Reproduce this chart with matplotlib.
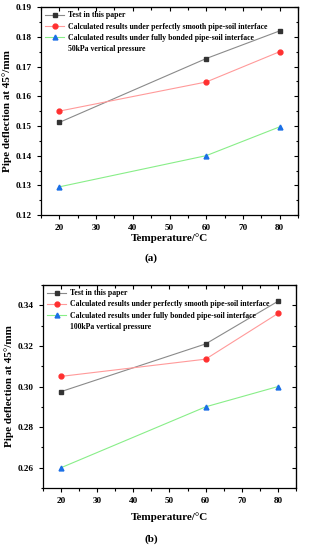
import matplotlib
matplotlib.use("Agg")
import matplotlib.pyplot as plt
from matplotlib.lines import Line2D
from matplotlib.ticker import MultipleLocator

plt.rcParams['font.family'] = ['Liberation Serif', 'DejaVu Serif']
plt.rcParams['font.weight'] = 'bold'

temps = [20, 60, 80]
labels = ["Test in this paper",
          "Calculated results under perfectly smooth pipe-soil interface",
          "Calculated results under fully bonded pipe-soil interface"]

test_a = [0.1512, 0.1727, 0.1820]
smooth_a = [0.1550, 0.1648, 0.1750]
bonded_a = [0.1295, 0.1400, 0.1497]

test_b = [0.2975, 0.3210, 0.3420]
smooth_b = [0.3050, 0.3135, 0.3360]
bonded_b = [0.2600, 0.2900, 0.3000]

pressure_a = "50kPa vertical pressure"
pressure_b = "100kPa vertical pressure"

fig = plt.figure(figsize=(3.09, 5.50), dpi=100)

styles = [
    dict(color='#8a8a8a', marker='s', mfc='#333333', mec='#333333', ms=3.0),
    dict(color='#ff9a9a', marker='o', mfc='#ff3030', mec='#ff3030', ms=3.5),
    dict(color='#88ee88', marker='^', mfc='#1a6fe6', mec='#1a6fe6', ms=3.5),
]


def panel(rect, series, ylim, ystep, pressure, tag, tag_y, xlabel_pad):
    ax = fig.add_axes(rect)
    handles = []
    for vals, st, lab in zip(series, styles, labels):
        h, = ax.plot(temps, vals, lw=0.8, label=lab, **st)
        handles.append(h)
    handles.append(Line2D([], [], color='none', marker=None))
    ax.set_xlim(15, 85)
    ax.set_ylim(*ylim)
    ax.xaxis.set_major_locator(MultipleLocator(10))
    ax.xaxis.set_minor_locator(MultipleLocator(5))
    ax.yaxis.set_major_locator(MultipleLocator(ystep))
    ax.yaxis.set_minor_locator(MultipleLocator(ystep / 2))
    ax.tick_params(axis='both', which='both', labelsize=6.6, width=0.8, direction='out')
    ax.tick_params(axis='both', which='major', length=3)
    ax.tick_params(axis='both', which='minor', length=1.8)
    for t in ax.get_xticklabels() + ax.get_yticklabels():
        t.set_fontweight('bold')
    for s in ax.spines.values():
        s.set_linewidth(0.9)

    top = ax.secondary_xaxis('top')
    top.xaxis.set_major_locator(MultipleLocator(10))
    top.xaxis.set_minor_locator(MultipleLocator(5))
    top.tick_params(which='both', direction='in', labeltop=False, width=0.8)
    top.tick_params(which='major', length=3)
    top.tick_params(which='minor', length=1.8)
    right = ax.secondary_yaxis('right')
    right.yaxis.set_major_locator(MultipleLocator(ystep))
    right.yaxis.set_minor_locator(MultipleLocator(ystep / 2))
    right.tick_params(which='both', direction='in', labelright=False, width=0.8)
    right.tick_params(which='major', length=3)
    right.tick_params(which='minor', length=1.8)

    ax.set_xlabel("Temperature/°C", fontsize=8, fontweight='bold', labelpad=xlabel_pad)
    ax.set_ylabel("Pipe deflection at 45°/mm", fontsize=8, fontweight='bold', labelpad=3)
    ax.legend(handles, labels + [pressure], loc='upper left', frameon=False,
              prop={'weight': 'bold', 'size': 5.6},
              handlelength=2.4, handletextpad=0.5, labelspacing=0.4,
              borderaxespad=0.25, borderpad=0.3)
    fig.text(0.49, tag_y, tag, fontsize=8, fontweight='bold', ha='center', va='center')
    return ax


panel([0.1327, 0.609, 0.8317, 0.378], [test_a, smooth_a, bonded_a], (0.12, 0.19), 0.01,
      pressure_a, "(a)", 1 - 258 / 550, 1)
panel([0.139, 0.1127, 0.819, 0.369], [test_b, smooth_b, bonded_b], (0.25, 0.35), 0.02,
      pressure_b, "(b)", 1 - 539 / 550, 5)

fig.savefig("out.png", dpi=100)
